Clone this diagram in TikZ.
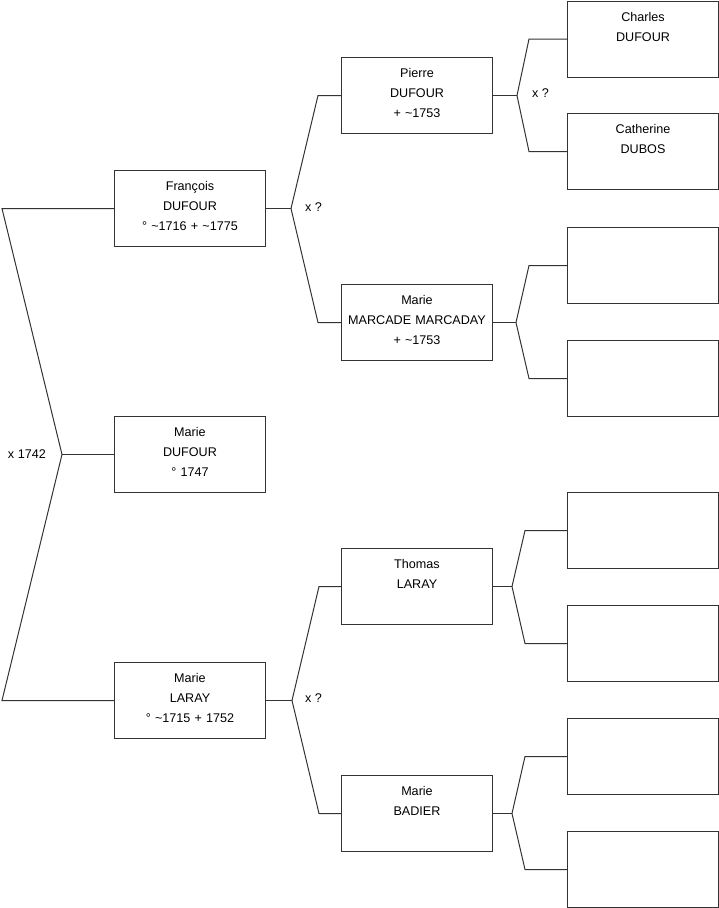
\documentclass[tikz,border=0pt]{standalone}
\usepackage{fontspec}
\setmainfont{Liberation Sans}
\usetikzlibrary{positioning}
\definecolor{tline}{HTML}{333333}
\tikzset{
  person/.style={draw=tline, line width=1pt, anchor=north west, align=center,
                 text width=151pt, inner sep=0pt, text height=20.3pt, text depth=55.7pt,
                 font=\fontsize{12.6}{20}\selectfont},
  link/.style={draw=tline, line width=1pt},
  union/.style={inner sep=0pt, font=\fontsize{12.6}{14}\selectfont},
}
\begin{document}
\begin{tikzpicture}[x=1pt, y=-1pt]
  \useasboundingbox (0,0) rectangle (719,908);

  % Enfant et parents
  \node[person] (marieD) at (114,416) {Marie\\DUFOUR\\° 1747};
  \node[person] (francois) at (114,170) {François\\DUFOUR\\° \textasciitilde1716 + \textasciitilde1775};
  \node[person] (marieL) at (114,662) {Marie\\LARAY\\° \textasciitilde1715 + 1752};

  % Grands-parents
  \node[person] (pierre) at (341,57) {Pierre\\DUFOUR\\+ \textasciitilde1753};
  \node[person] (marcade) at (341,284) {Marie\\MARCADE MARCADAY\\+ \textasciitilde1753};
  \node[person] (thomas) at (341,548) {Thomas\\LARAY};
  \node[person] (badier) at (341,775) {Marie\\BADIER};

  % Arriere-grands-parents
  \node[person] (charles) at (567,0.5) {Charles\\DUFOUR};
  \node[person] (catherine) at (567,113) {Catherine\\DUBOS};
  \node[person] (mmPere) at (567,227) {};
  \node[person] (mmMere) at (567,340) {};
  \node[person] (tlPere) at (567,492) {};
  \node[person] (tlMere) at (567,605) {};
  \node[person] (mbPere) at (567,718) {};
  \node[person] (mbMere) at (567,831) {};

  % Fourches
  \coordinate (fk0) at ([xshift=-52pt]marieD.west);
  \coordinate (fkF) at ([xshift=25pt]francois.east);
  \coordinate (fkL) at ([xshift=26pt]marieL.east);
  \coordinate (fkP) at ([xshift=24pt]pierre.east);
  \coordinate (fkM) at ([xshift=23pt]marcade.east);
  \coordinate (fkT) at ([xshift=19pt]thomas.east);
  \coordinate (fkB) at ([xshift=19pt]badier.east);

  \draw[link] (marieD.west) -- (fk0);
  \draw[link] (fk0) -- ([xshift=-112pt]francois.west) -- (francois.west);
  \draw[link] (fk0) -- ([xshift=-112pt]marieL.west) -- (marieL.west);

  \draw[link] (francois.east) -- (fkF);
  \draw[link] (fkF) -- ([xshift=-23pt]pierre.west) -- (pierre.west);
  \draw[link] (fkF) -- ([xshift=-23pt]marcade.west) -- (marcade.west);

  \draw[link] (marieL.east) -- (fkL);
  \draw[link] (fkL) -- ([xshift=-22pt]thomas.west) -- (thomas.west);
  \draw[link] (fkL) -- ([xshift=-22pt]badier.west) -- (badier.west);

  \draw[link] (pierre.east) -- (fkP);
  \draw[link] (fkP) -- ([xshift=-38pt]charles.west) -- (charles.west);
  \draw[link] (fkP) -- ([xshift=-38pt]catherine.west) -- (catherine.west);

  \draw[link] (marcade.east) -- (fkM);
  \draw[link] (fkM) -- ([xshift=-38pt]mmPere.west) -- (mmPere.west);
  \draw[link] (fkM) -- ([xshift=-38pt]mmMere.west) -- (mmMere.west);

  \draw[link] (thomas.east) -- (fkT);
  \draw[link] (fkT) -- ([xshift=-42pt]tlPere.west) -- (tlPere.west);
  \draw[link] (fkT) -- ([xshift=-42pt]tlMere.west) -- (tlMere.west);

  \draw[link] (badier.east) -- (fkB);
  \draw[link] (fkB) -- ([xshift=-42pt]mbPere.west) -- (mbPere.west);
  \draw[link] (fkB) -- ([xshift=-42pt]mbMere.west) -- (mbMere.west);

  % Mariages
  \node[union, left=16pt of fk0] (m0) {x 1742};
  \node[union, right=14pt of fkF, yshift=1pt] (mF) {x ?};
  \node[union, right=15pt of fkP, yshift=2pt] (mP) {x ?};
  \node[union, right=13pt of fkL, yshift=2pt] (mL) {x ?};
\end{tikzpicture}
\end{document}
